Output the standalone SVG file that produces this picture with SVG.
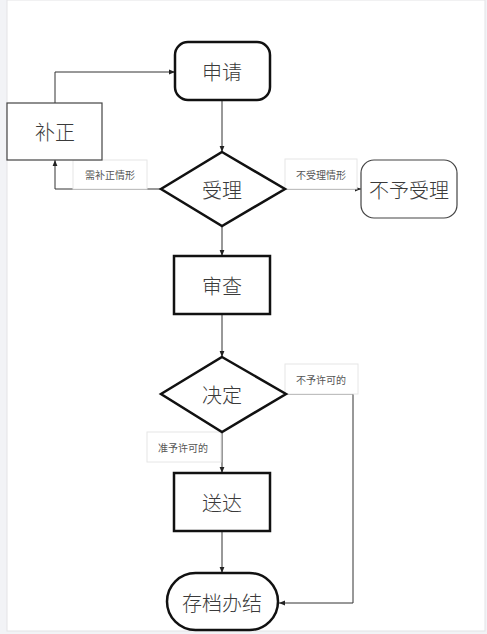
<svg xmlns="http://www.w3.org/2000/svg" width="487" height="634" viewBox="0 0 487 634">
<defs>
<marker id="ah" viewBox="0 0 10 10" refX="10" refY="5" markerWidth="6" markerHeight="6" orient="auto" markerUnits="userSpaceOnUse"><path d="M0,1 L10,5 L0,9 z" fill="#222"/></marker>
<style>
.thick{fill:#fff;stroke:#111;stroke-width:2.5}
.thin{fill:#fff;stroke:#444;stroke-width:1.2}
.t{font-family:"Noto Sans CJK SC","Liberation Sans",sans-serif;font-size:20px;font-weight:300;fill:#3a3a3a;text-anchor:middle;dominant-baseline:central}
.s{font-family:"Noto Sans CJK SC","Liberation Sans",sans-serif;font-size:10px;fill:#555;text-anchor:middle;dominant-baseline:central}
.lb{fill:#fff;stroke:#e6e6e6;stroke-width:1}
.c{fill:none;stroke:#333;stroke-width:1;marker-end:url(#ah)}
</style>
</defs>
<rect x="0" y="0" width="487" height="634" fill="#f2f3f6"/>
<rect x="7" y="0" width="478" height="631" fill="#fff" stroke="#e3e3e6" stroke-width="1"/>
<g id="connectors">
<path class="c" d="M222,100 V152"/>
<path class="c" d="M55,103 V72 H175"/>
<path class="c" d="M161,189 H55 V160"/>
<path class="c" d="M285,189 H361"/>
<path class="c" d="M222,226 V256"/>
<path class="c" d="M222,314 V357"/>
<path class="c" d="M222,432 V473"/>
<path class="c" d="M222,531 V573"/>
<path class="c" d="M286,394 H353 V603 H279"/>
</g>
<g id="label-buzheng">
<rect class="lb" x="73" y="160" width="74" height="29"/>
<text class="s" x="110" y="174">需补正情形</text>
</g>
<g id="label-bushouli">
<rect class="lb" x="285" y="159" width="72" height="30"/>
<text class="s" x="321" y="174">不受理情形</text>
</g>
<g id="label-buyu">
<rect class="lb" x="285" y="364" width="73" height="30"/>
<text class="s" x="321" y="379">不予许可的</text>
</g>
<g id="label-zhunyu">
<rect class="lb" x="147" y="432" width="74" height="30"/>
<text class="s" x="183" y="447">准予许可的</text>
</g>
<g id="shenqing">
<rect class="thick" x="175" y="42" width="95" height="58" rx="13"/>
<text class="t" x="222" y="71">申请</text>
</g>
<g id="buzheng">
<rect class="thin" x="7" y="103" width="95" height="57"/>
<text class="t" x="55" y="131">补正</text>
</g>
<g id="shouli">
<polygon class="thick" points="222,152 285,189 222,226 161,189"/>
<text class="t" x="222" y="189">受理</text>
</g>
<g id="buyushouli">
<rect class="thin" x="361" y="160" width="96" height="58" rx="13"/>
<text class="t" x="409" y="189">不予受理</text>
</g>
<g id="shencha">
<rect class="thick" x="174" y="256" width="96" height="58"/>
<text class="t" x="222" y="285">审查</text>
</g>
<g id="jueding">
<polygon class="thick" points="222,357 286,394 222,432 161,394"/>
<text class="t" x="222" y="394">决定</text>
</g>
<g id="songda">
<rect class="thick" x="174" y="473" width="96" height="58"/>
<text class="t" x="222" y="502">送达</text>
</g>
<g id="cundang">
<rect class="thick" x="167" y="573" width="111" height="57" rx="28.5"/>
<text class="t" x="222" y="602">存档办结</text>
</g>
</svg>
